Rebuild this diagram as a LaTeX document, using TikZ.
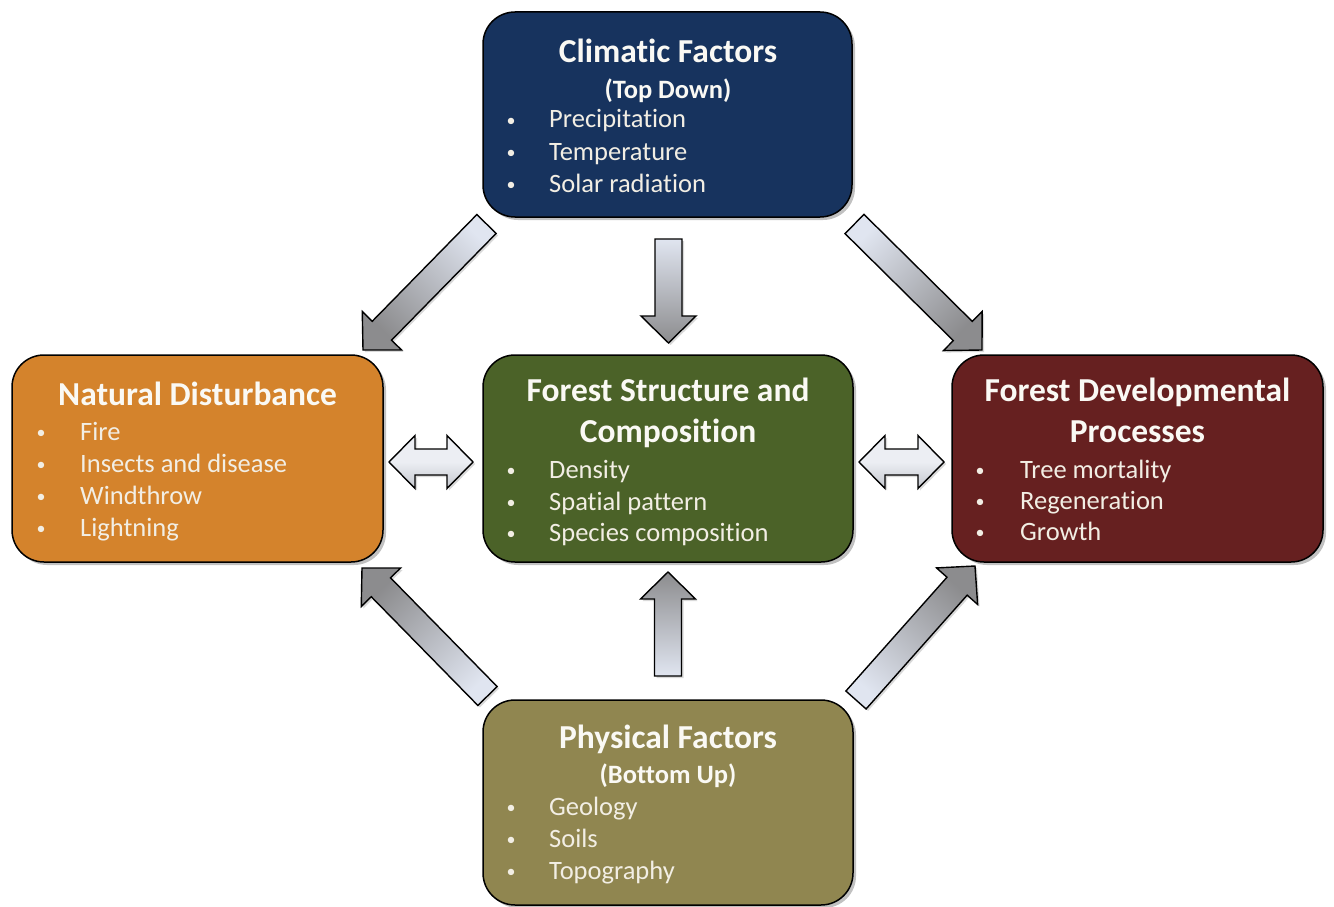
\documentclass[tikz,border=0pt]{standalone}
\usepackage{fontspec}
\setmainfont{Carlito}[Ligatures=NoCommon]
\usetikzlibrary{calc,shadows}
\definecolor{navyc}{RGB}{23,51,94}
\definecolor{orangec}{RGB}{212,131,44}
\definecolor{greenc}{RGB}{75,98,40}
\definecolor{redc}{RGB}{102,32,32}
\definecolor{olivec}{RGB}{144,134,80}
\definecolor{txtc}{RGB}{242,238,228}
\definecolor{headc}{RGB}{250,249,244}
\definecolor{arrLight}{RGB}{224,229,240}
\definecolor{arrDark}{RGB}{140,140,142}
\definecolor{dblLight}{RGB}{236,238,243}
\definecolor{dblDark}{RGB}{196,199,206}
\tikzset{
  box/.style={draw=black, line width=1.5pt, rounded corners=32pt, inner sep=0pt,
    drop shadow={shadow xshift=3pt, shadow yshift=-3pt, opacity=0.35, fill=black!70}},
  headtxt/.style={anchor=base, inner sep=0pt, text=headc, font=\bfseries\fontsize{33.5}{38}\selectfont},
  subtxt/.style={anchor=base, inner sep=0pt, text=headc, font=\bfseries\fontsize{26.5}{30}\selectfont},
  itemtxt/.style={anchor=base west, inner sep=0pt, text=txtc, font=\fontsize{26.5}{30}\selectfont},
  bultxt/.style={anchor=base, inner sep=0pt, text=txtc, font=\fontsize{18}{20}\selectfont},
  blockarr/.style={draw=black, line width=1.4pt, line join=miter, top color=arrLight, bottom color=arrDark,
    drop shadow={shadow xshift=2pt, shadow yshift=-2pt, opacity=0.25, fill=black!60}},
  dblarr/.style={draw=black, line width=1.4pt, line join=miter, top color=dblLight, bottom color=dblDark, middle color=dblLight,
    drop shadow={shadow xshift=2pt, shadow yshift=-2pt, opacity=0.25, fill=black!60}}
}
\newcommand\blockarrow[3]{%
  \coordinate (#1-h) at ($(#2)!27pt!(#1)$);
  \draw[blockarr, shading angle=#3]
    ($(#1)!13.5pt!90:(#2)$) -- ($(#1-h)!13.5pt!-90:(#1)$) -- ($(#1-h)!27.5pt!-90:(#1)$) -- (#2)
    -- ($(#1-h)!27.5pt!90:(#1)$) -- ($(#1-h)!13.5pt!90:(#1)$) -- ($(#1)!13.5pt!-90:(#2)$) -- cycle;
}
\newcommand\dblarrow[2]{%
  \coordinate (#1-hl) at ($(#1)!26pt!(#2)$);
  \coordinate (#1-hr) at ($(#2)!26pt!(#1)$);
  \draw[dblarr] (#1) -- ($(#1-hl)!26.5pt!90:(#2)$) -- ($(#1-hl)!13pt!90:(#2)$)
    -- ($(#1-hr)!13pt!90:(#2)$) -- ($(#1-hr)!26.5pt!90:(#2)$) -- (#2)
    -- ($(#1-hr)!26.5pt!-90:(#2)$) -- ($(#1-hr)!13pt!-90:(#2)$)
    -- ($(#1-hl)!13pt!-90:(#2)$) -- ($(#1-hl)!26.5pt!-90:(#2)$) -- cycle;
}
\begin{document}
\begin{tikzpicture}[x=1pt,y=-1pt]
\useasboundingbox (0,0) rectangle (1334,907);
% boxes
\node[box, fill=navyc, minimum width=369pt, minimum height=205pt] (climatic) at (667.5,114.5) {};
\node[box, fill=orangec, minimum width=371pt, minimum height=207pt] (disturb) at (197.5,458.5) {};
\node[box, fill=greenc, minimum width=370pt, minimum height=207pt] (structure) at (668,458.5) {};
\node[box, fill=redc, minimum width=371pt, minimum height=207pt] (devel) at (1137.5,458.5) {};
\node[box, fill=olivec, minimum width=370pt, minimum height=205pt] (physical) at (668,802.5) {};
% arrow end points
\coordinate (a1t) at (486.5,224); \coordinate (a1p) at (363,350);
\coordinate (a2t) at (668.5,239); \coordinate (a2p) at (668.5,343);
\coordinate (a3t) at (854.5,224); \coordinate (a3p) at (982,350);
\coordinate (a4t) at (487.5,696); \coordinate (a4p) at (362,568);
\coordinate (a5t) at (668,676);   \coordinate (a5p) at (668,572);
\coordinate (a6t) at (856,700);   \coordinate (a6p) at (975,566);
\coordinate (d1l) at (389,462);   \coordinate (d1r) at (473,462);
\coordinate (d2l) at (859,462);   \coordinate (d2r) at (944,462);
\blockarrow{a1t}{a1p}{315.7}
\blockarrow{a2t}{a2p}{0}
\blockarrow{a3t}{a3p}{45.5}
\blockarrow{a4t}{a4p}{224.3}
\blockarrow{a5t}{a5p}{180}
\blockarrow{a6t}{a6p}{138.4}
\dblarrow{d1l}{d1r}
\dblarrow{d2l}{d2r}
% climatic text
\node[headtxt] (c-h) at (668,63) {Climatic Factors};
\node[subtxt] (c-s) at (668,99) {(Top Down)};
\node[bultxt] (c-b1) at (511,126) {•}; \node[itemtxt] (c-i1) at (549,128) {Precipitation};
\node[bultxt] (c-b2) at (511,158) {•}; \node[itemtxt] (c-i2) at (549,160) {Temperature};
\node[bultxt] (c-b3) at (511,190) {•}; \node[itemtxt] (c-i3) at (549,192) {Solar radiation};
% disturbance text
\node[headtxt] (n-h) at (197.5,405) {Natural Disturbance};
\node[bultxt] (n-b1) at (41,438) {•}; \node[itemtxt] (n-i1) at (80,440) {Fire};
\node[bultxt] (n-b2) at (41,470) {•}; \node[itemtxt] (n-i2) at (80,472) {Insects and disease};
\node[bultxt] (n-b3) at (41,502) {•}; \node[itemtxt] (n-i3) at (80,504) {Windthrow};
\node[bultxt] (n-b4) at (41,534) {•}; \node[itemtxt] (n-i4) at (80,536) {Lightning};
% structure text
\node[headtxt] (s-h1) at (668,401) {Forest Structure and};
\node[headtxt] (s-h2) at (668,442) {Composition};
\node[bultxt] (s-b1) at (511,476) {•}; \node[itemtxt] (s-i1) at (549,478) {Density};
\node[bultxt] (s-b2) at (511,508) {•}; \node[itemtxt] (s-i2) at (549,510) {Spatial pattern};
\node[bultxt] (s-b3) at (511,539) {•}; \node[itemtxt] (s-i3) at (549,541) {Species composition};
% developmental text
\node[headtxt] (d-h1) at (1137.5,401) {Forest Developmental};
\node[headtxt] (d-h2) at (1137.5,442) {Processes};
\node[bultxt] (d-b1) at (980,476) {•}; \node[itemtxt] (d-i1) at (1020,478) {Tree mortality};
\node[bultxt] (d-b2) at (980,507) {•}; \node[itemtxt] (d-i2) at (1020,509) {Regeneration};
\node[bultxt] (d-b3) at (980,538) {•}; \node[itemtxt] (d-i3) at (1020,540) {Growth};
% physical text
\node[headtxt] (p-h) at (668,748) {Physical Factors};
\node[subtxt] (p-s) at (668,783) {(Bottom Up)};
\node[bultxt] (p-b1) at (511,813) {•}; \node[itemtxt] (p-i1) at (549,815) {Geology};
\node[bultxt] (p-b2) at (511,845) {•}; \node[itemtxt] (p-i2) at (549,847) {Soils};
\node[bultxt] (p-b3) at (511,877) {•}; \node[itemtxt] (p-i3) at (549,879) {Topography};
\end{tikzpicture}
\end{document}
